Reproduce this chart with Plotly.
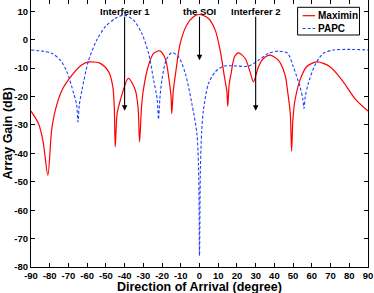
import plotly.graph_objects as go

# Maximin array gain (dB) vs direction of arrival (degree)
maximin_x = [-90, -86, -83.5, -81, -79, -77, -73.4, -68, -63, -59, -53, -48.5, -46.3, -45.5, -45,
             -44, -42.3, -38, -34.3, -32.8, -32, -31, -30, -27.2, -24.5, -21.3, -18.3, -16, -15.2, -14.8,
             -14, -13, -10.3, -6.8, -3.2, -0.2, 4.8, 8.4, 11, 13.3, 14.6, 15.1, 15.8, 16.9, 18.7,
             20.8, 24.4, 27, 28.8, 31.5, 34.1, 37.7, 42.1, 45.7, 47.1, 48.5, 49.2, 49.9, 51, 53.7,
             57.2, 62.6, 69.7, 76.8, 83, 90]
maximin_y = [-25.1, -29.5, -36, -47.7, -32, -24.8, -17.7, -12.4, -8.9, -7.8, -8.3, -11.3, -16.5, -24, -37.7,
             -26, -21.3, -13.6, -17.7, -24, -35.9, -24, -17.7, -8.9, -4.8, -3.9, -6.6, -15.4, -20, -26,
             -18, -13, -1.3, 5.2, 8.1, 8.9, 7.5, 3.4, -3.6, -13, -18, -23.4, -16, -11.8, -6,
             -4.6, -6.6, -11.3, -14.8, -9.5, -6.6, -5.4, -7.2, -12.4, -18.3, -26, -39.2, -28, -21.3, -14.2,
             -9.5, -7.8, -9.5, -14.8, -20.7, -25.1]

# PAPC array gain (dB)
papc_x = [-90, -84, -78.8, -74.3, -70.8, -67.2, -65.6, -64.9, -64.2, -62.8, -59.2, -54.8, -50.3, -45,
          -40.5, -35.2, -30.8, -27.2, -24.5, -22.6, -21.9, -21.2, -20.1, -17.8, -14.8, -11.2, -7.6,
          -4.1, -1.4, -0.5, 0, 0.5, 1.2, 2.1, 4.8, 8.4, 12.8, 19, 26.1, 31.5, 36.8, 42.1, 47.1,
          50.1, 53.7, 55.2, 55.8, 56.5, 58.1, 61.7, 66.1, 71.5, 80.4, 90]
papc_y = [-3.6, -4, -4.8, -7.2, -11.3, -18.9, -23, -28.9, -23, -17.7, -7.2, 0, 4.6, 7.5,
          8.7, 6.9, 2.2, -4.8, -14.2, -21, -28, -21, -14.2, -7.2, -4.5, -6, -11.8,
          -22.4, -33, -45, -76, -45, -32, -24.8, -15.4, -11.3, -9.3, -9.2, -9.3, -7.2, -4.8, -4, -4.8,
          -9.5, -16.6, -21, -24.2, -20, -15.4, -8.9, -4.8, -3.6, -3.4, -3.6]

series_names = ["Maximin", "PAPC"]
series_colors = ["#ff0000", "#1f3fff"]
series_dash = ["solid", "3px,2px"]

x_ticks = list(range(-90, 91, 10))
y_ticks = list(range(-80, 11, 10))

annot_labels = ["Interferer 1", "the SOI", "Interferer 2"]
annot_x = [-40, 0, 30]
annot_tip_y = [-25, -7.2, -25]

FONT = "Liberation Sans, Arial, sans-serif"

fig = go.Figure()
for name, xs, ys, col, dash, w in [(series_names[0], maximin_x, maximin_y, series_colors[0], series_dash[0], 1.2),
                                   (series_names[1], papc_x, papc_y, series_colors[1], series_dash[1], 1.1)]:
    fig.add_trace(go.Scatter(x=xs, y=ys, mode="lines", name=name, showlegend=False, hoverinfo="skip",
                             line=dict(color=col, width=w, dash=dash, shape="spline", smoothing=0.8)))

# annotations: text labels and arrows
for txt, xa, ytip in zip(annot_labels, annot_x, annot_tip_y):
    fig.add_annotation(x=xa, y=9.9, text="<b>%s</b>" % txt, showarrow=False,
                       font=dict(family=FONT, size=9.5, color="black"), yanchor="middle")
    fig.add_annotation(x=xa, y=ytip, ax=xa, ay=8.6, axref="x", ayref="y", xref="x", yref="y",
                       text="", showarrow=True, arrowhead=2, arrowsize=1, arrowwidth=1.1,
                       arrowcolor="black", standoff=0)

# manual legend box (MATLAB style)
W_PLOT = 374 - 30.5 - 6
H_PLOT = 293 - 26
def px2paper_x(px):
    return (px - 30.5) / W_PLOT
def py2paper_y(py):
    return 1 - py / H_PLOT

fig.add_shape(type="rect", xref="paper", yref="paper",
              x0=px2paper_x(297.5), x1=px2paper_x(359.5), y0=py2paper_y(35), y1=py2paper_y(7.3),
              line=dict(color="black", width=1), fillcolor="white", layer="above")
row_py = [15.7, 28.5]
for name, col, dash, rpy in zip(series_names, series_colors, series_dash, row_py):
    fig.add_shape(type="line", xref="paper", yref="paper",
                  x0=px2paper_x(302.5), x1=px2paper_x(315), y0=py2paper_y(rpy), y1=py2paper_y(rpy),
                  line=dict(color=col, width=1.2, dash=dash), layer="above")
    fig.add_annotation(xref="paper", yref="paper", x=px2paper_x(316), y=py2paper_y(rpy),
                       xanchor="left", yanchor="middle", showarrow=False,
                       text="<b>%s</b>" % name, font=dict(family=FONT, size=10, color="black"))

# axis titles
fig.add_annotation(xref="paper", yref="paper", x=0.5, y=0, yshift=-11, xanchor="center", yanchor="top",
                   showarrow=False, text="<b>Direction of Arrival (degree)</b>",
                   font=dict(family=FONT, size=12.5, color="black"))
fig.add_annotation(xref="paper", yref="paper", x=0, y=0.5, xshift=-15, xanchor="right", yanchor="middle",
                   showarrow=False, text="<b>Array Gain (dB)</b>", textangle=-90,
                   font=dict(family=FONT, size=12.5, color="black"))

axis_common = dict(showgrid=False, zeroline=False, showline=True, linecolor="black", linewidth=1,
                   mirror="ticks", ticks="inside", ticklen=4, tickcolor="black", automargin=False,
                   tickfont=dict(family=FONT, size=9.5, color="black"))

fig.update_layout(
    width=374, height=293,
    margin=dict(l=30.5, r=6, t=0, b=26),
    paper_bgcolor="white", plot_bgcolor="white",
    showlegend=False, hovermode=False,
    xaxis=dict(range=[-90, 90], tickvals=x_ticks, ticktext=["<b>%d</b>" % v for v in x_ticks],
               **axis_common),
    yaxis=dict(range=[-80, 14], tickvals=y_ticks, ticktext=["<b>%d</b>" % v for v in y_ticks],
               **axis_common),
)

fig.write_html("out.html", config={"displayModeBar": False, "staticPlot": True},
               post_script="document.body.style.margin='0px';document.body.style.overflow='hidden';")
